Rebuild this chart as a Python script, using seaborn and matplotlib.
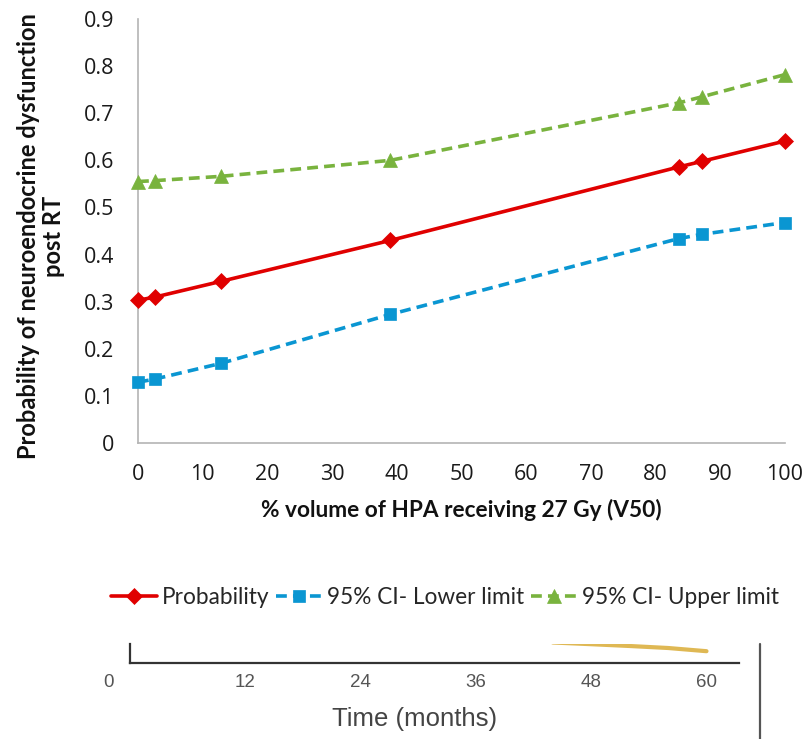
import numpy as np
import pandas as pd
import matplotlib
matplotlib.use("Agg")
import matplotlib.pyplot as plt
from matplotlib.lines import Line2D
from matplotlib.transforms import ScaledTranslation
import seaborn as sns

# V50 of the HPA (%) and modelled probability with its 95% CI
v50 = [0, 2.7, 12.8, 39.0, 83.6, 87.2, 100]
probability = [0.303, 0.310, 0.343, 0.430, 0.586, 0.598, 0.641]
ci_lower = [0.129, 0.136, 0.169, 0.273, 0.434, 0.443, 0.468]
ci_upper = [0.555, 0.557, 0.566, 0.600, 0.722, 0.735, 0.782]

x_ticks = [0, 10, 20, 30, 40, 50, 60, 70, 80, 90, 100]
y_ticks = [0, 0.1, 0.2, 0.3, 0.4, 0.5, 0.6, 0.7, 0.8, 0.9]
y_tick_labels = ["0", "0.1", "0.2", "0.3", "0.4", "0.5", "0.6", "0.7", "0.8", "0.9"]

# Lower panel: tail of a cumulative-incidence curve over follow-up time
months = [44, 48, 52, 56, 60]
incidence = [0.205, 0.188, 0.170, 0.150, 0.118]
month_ticks = [0, 12, 24, 36, 48, 60]

sns.set_theme(style="white")
plt.rcParams["font.family"] = ["Open Sans", "DejaVu Sans"]

W, H = 808, 739
fig = plt.figure(figsize=(W / 100, H / 100), dpi=100)


def px_axes(left, top, right, bottom):
    return fig.add_axes([left / W, 1 - bottom / H, (right - left) / W, (bottom - top) / H])


ax = px_axes(138, 19, 785, 443)

df = pd.DataFrame({"v50": v50, "prob": probability, "lo": ci_lower, "hi": ci_upper})

red, blue, green = "#e00000", "#0a96d2", "#79b33e"
sns.lineplot(data=df, x="v50", y="prob", ax=ax, color=red, linewidth=2.6,
             marker="D", markersize=8, markeredgecolor=red, markeredgewidth=0.5,
             label="Probability", clip_on=False, zorder=4)
sns.lineplot(data=df, x="v50", y="lo", ax=ax, color=blue, linewidth=2.6,
             linestyle=(0, (3, 1.7)), marker="s", markersize=9,
             markeredgecolor=blue, markeredgewidth=0.5, label="95% CI- Lower limit",
             clip_on=False, zorder=3)
sns.lineplot(data=df, x="v50", y="hi", ax=ax, color=green, linewidth=2.6,
             linestyle=(0, (3, 1.7)), marker="^", markersize=10,
             markeredgecolor=green, markeredgewidth=0.5, label="95% CI- Upper limit",
             clip_on=False, zorder=3)

ax.set_xlim(0, 100)
ax.set_ylim(0, 0.9)
ax.set_xticks(x_ticks)
ax.set_yticks(y_ticks)
ax.set_yticklabels(y_tick_labels)
for s in ["top", "right"]:
    ax.spines[s].set_visible(False)
for s in ["left", "bottom"]:
    ax.spines[s].set_color("#b4b4b4")
    ax.spines[s].set_linewidth(1.2)
ax.tick_params(axis="both", which="major", direction="out", length=6,
               width=1.2, color="#b4b4b4", labelsize=15.5, labelcolor="#1a1a1a")
ax.tick_params(axis="y", pad=11)
ax.tick_params(axis="x", pad=9)

label_font = dict(family=["Lato", "DejaVu Sans"], weight="bold", color="#111111")
ax.set_xlabel("% volume of HPA receiving 27 Gy (V50)", labelpad=10, size=16.3, **label_font)
ax.set_ylabel("Probability of neuroendocrine dysfunction\npost RT", size=17,
              linespacing=1.13, **label_font)
ax.yaxis.set_label_coords(-(138 - 65) / 647, 0.487)

handles, labels = ax.get_legend_handles_labels()
ax.get_legend().remove()
fig.legend(handles, labels, loc="center", bbox_to_anchor=(445 / W, 1 - 597 / H),
           ncol=3, frameon=False, handlelength=2.05, handletextpad=0.2,
           columnspacing=0.3, borderaxespad=0,
           prop=dict(family=["Lato", "DejaVu Sans"], size=16.3))

# Lower panel fragment
ax2 = px_axes(130, 644, 739, 663)
sns.lineplot(x=months, y=incidence, ax=ax2, color="#dcb141", linewidth=3, alpha=0.9)
ax2.set_xlim(0, 609 / 115.3 * 12)
ax2.set_ylim(0, 0.19)
ax2.set_yticks([])
ax2.set_xticks(month_ticks)
ax2.set_xticklabels([str(m) for m in month_ticks])
for s in ["top", "right"]:
    ax2.spines[s].set_visible(False)
ax2.spines["left"].set_color("#333333")
ax2.spines["bottom"].set_color("#333333")
ax2.spines["left"].set_linewidth(1.6)
ax2.spines["bottom"].set_linewidth(1.6)
ax2.tick_params(axis="x", direction="out", length=4, width=1.2, color="#333333",
                labelsize=13.5, labelcolor="#555555", pad=4)
for lab in ax2.get_xticklabels():
    lab.set_family(["Liberation Sans", "DejaVu Sans"])
first = ax2.get_xticklabels()[0]
first.set_transform(first.get_transform() + ScaledTranslation(-21 / 100, 0, fig.dpi_scale_trans))
ax2.set_xlabel("Time (months)", family=["Liberation Sans", "DejaVu Sans"],
               size=18.5, color="#444444")
ax2.xaxis.set_label_coords((415 - 130) / 609, -2.3)

fig.add_artist(Line2D([760 / W, 760 / W], [0, 1 - 644 / H], color="#555555", linewidth=1.6))

fig.savefig("out.png", dpi=100)
